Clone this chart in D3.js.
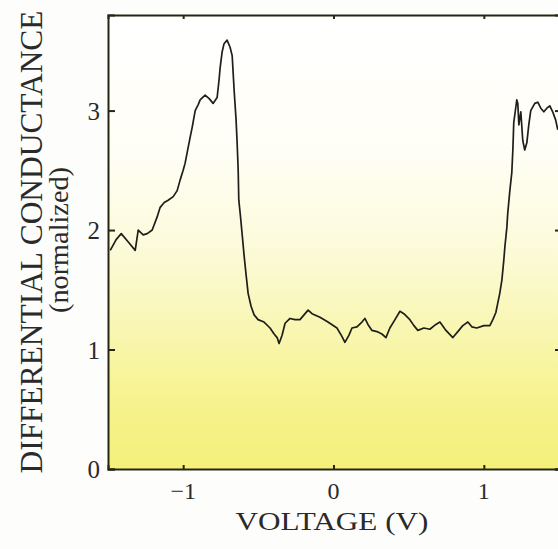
<!DOCTYPE html>
<html>
<head>
<meta charset="utf-8">
<script src="https://cdn.jsdelivr.net/npm/d3@7"></script>
<style>
  html, body { margin: 0; padding: 0; background: #fdfdfb; }
  svg { display: block; }
  text { font-family: "Liberation Serif", "Times New Roman", serif; fill: #2a2a2a; }
</style>
</head>
<body>
<script>
// ---- data ----
const voltage = [
  -1.485,-1.446,-1.412,-1.365,-1.319,-1.299,-1.266,-1.239,-1.206,-1.173,-1.153,-1.126,-1.100,-1.066,-1.040,-1.020,
  -1.000,-0.987,-0.967,-0.953,-0.940,-0.920,-0.900,-0.887,-0.854,-0.827,-0.801,-0.774,-0.761,-0.754,-0.741,-0.728,
  -0.708,-0.688,-0.674,-0.661,-0.648,-0.641,-0.634,-0.630,-0.620,-0.608,-0.595,-0.581,-0.568,-0.548,-0.528,-0.502,
  -0.462,-0.422,-0.395,-0.375,-0.362,-0.342,-0.322,-0.289,-0.256,-0.223,-0.196,-0.169,-0.143,-0.090,-0.037,0.023,
  0.056,0.076,0.103,0.123,0.156,0.189,0.209,0.229,0.256,0.289,0.322,0.349,0.375,0.409,0.442,0.468,0.508,0.535,
  0.561,0.601,0.641,0.681,0.708,0.748,0.794,0.827,0.860,0.894,0.920,0.953,1.000,1.040,1.060,1.080,1.093,1.106,
  1.120,1.133,1.140,1.153,1.159,1.173,1.186,1.193,1.196,1.199,1.213,1.219,1.226,1.233,1.246,1.259,1.272,1.286,
  1.299,1.312,1.339,1.359,1.379,1.399,1.419,1.439,1.458,1.478,1.492
];
const conductance = [
  1.83,1.92,1.97,1.90,1.83,2.00,1.96,1.97,2.00,2.11,2.19,2.23,2.25,2.28,2.33,2.42,
  2.50,2.56,2.69,2.78,2.86,3.00,3.05,3.09,3.13,3.10,3.06,3.11,3.26,3.36,3.49,3.56,
  3.59,3.53,3.46,3.17,2.92,2.73,2.50,2.25,2.13,1.97,1.79,1.62,1.47,1.36,1.29,1.25,
  1.23,1.18,1.13,1.10,1.05,1.12,1.22,1.26,1.25,1.25,1.29,1.33,1.30,1.27,1.23,1.18,
  1.11,1.06,1.12,1.18,1.19,1.23,1.26,1.21,1.16,1.15,1.13,1.10,1.18,1.25,1.32,1.30,1.25,1.20,
  1.16,1.18,1.17,1.21,1.23,1.16,1.10,1.15,1.20,1.23,1.19,1.18,1.20,1.20,1.25,1.31,1.39,1.47,
  1.58,1.75,1.86,2.02,2.14,2.33,2.48,2.67,2.78,2.90,3.03,3.09,3.06,2.88,2.99,2.75,2.67,2.73,
  2.88,3.00,3.06,3.07,3.02,2.99,3.02,3.04,2.99,2.92,2.84
];
const xTicks = [-1, 0, 1];
const yTicks = [0, 1, 2, 3];
const xTickLabels = ["\u22121", "0", "1"];
const yTickLabels = ["0", "1", "2", "3"];
const xTitle = "VOLTAGE (V)";
const yTitle = "DIFFERENTIAL CONDUCTANCE";
const ySubTitle = "(normalized)";

// ---- layout ----
const W = 558, H = 549;
const L = 108, R = 559, T = 15, B = 469;

const svg = d3.select("body").append("svg").attr("width", W).attr("height", H);

const defs = svg.append("defs");
const grad = defs.append("linearGradient").attr("id", "bg")
  .attr("x1", "0").attr("y1", "0").attr("x2", "0").attr("y2", "1");
[[0, "#ffffff"], [0.3, "#fffef6"], [0.5, "#fcfbdc"], [0.7, "#f9f6b0"], [0.85, "#f6f38e"], [1, "#f4f07a"]]
  .forEach(([o, c]) => grad.append("stop").attr("offset", o).attr("stop-color", c));

const x = d3.scaleLinear().domain([-1.5, 1.5]).range([L, R]);
const y = d3.scaleLinear().domain([0, 3.8]).range([B, T]);

svg.append("rect").attr("x", L).attr("y", T).attr("width", R - L).attr("height", B - T)
  .attr("fill", "url(#bg)");

// axes (inward ticks)
const axStroke = "#262614";
const gB = svg.append("g").attr("transform", `translate(0,${B})`)
  .call(d3.axisBottom(x).tickValues(xTicks).tickSize(-4).tickFormat(""));
const gT = svg.append("g").attr("transform", `translate(0,${T})`)
  .call(d3.axisTop(x).tickValues(xTicks).tickSize(-4).tickFormat(""));
const gL = svg.append("g").attr("transform", `translate(${L},0)`)
  .call(d3.axisLeft(y).tickValues(yTicks).tickSize(-7).tickFormat(""));
const gR = svg.append("g").attr("transform", `translate(${R},0)`)
  .call(d3.axisRight(y).tickValues(yTicks).tickSize(-4).tickFormat(""));
[gB, gT, gL, gR].forEach(g => {
  g.select(".domain").attr("stroke", axStroke).attr("stroke-width", 2);
  g.selectAll(".tick line").attr("stroke", axStroke).attr("stroke-width", 2);
});

// tick labels
svg.append("g").selectAll("text").data(xTicks).join("text")
  .attr("x", d => x(d)).attr("y", 499)
  .attr("text-anchor", "middle").attr("font-size", 24)
  .text((d, i) => xTickLabels[i]);
svg.append("g").selectAll("text").data(yTicks).join("text")
  .attr("x", 100).attr("y", d => y(d) + 9)
  .attr("text-anchor", "end").attr("font-size", 25)
  .text((d, i) => yTickLabels[i]);

// titles
svg.append("text").attr("x", 332).attr("y", 530).attr("text-anchor", "middle")
  .attr("font-size", 26).attr("textLength", 193).attr("lengthAdjust", "spacingAndGlyphs")
  .text(xTitle);
svg.append("text").attr("transform", "translate(42,242) rotate(-90)")
  .attr("text-anchor", "middle").attr("font-size", 31)
  .attr("textLength", 463).attr("lengthAdjust", "spacingAndGlyphs")
  .text(yTitle);
svg.append("text").attr("transform", "translate(68,240) rotate(-90)")
  .attr("text-anchor", "middle").attr("font-size", 27)
  .attr("textLength", 146).attr("lengthAdjust", "spacingAndGlyphs")
  .text(ySubTitle);

// curve
const pts = voltage.map((v, i) => [v, conductance[i]]);
svg.append("path").datum(pts)
  .attr("fill", "none").attr("stroke", "#1e1e1a").attr("stroke-width", 1.7)
  .attr("stroke-linejoin", "round")
  .attr("d", d3.line().x(d => x(d[0])).y(d => y(d[1])));
</script>
</body>
</html>
